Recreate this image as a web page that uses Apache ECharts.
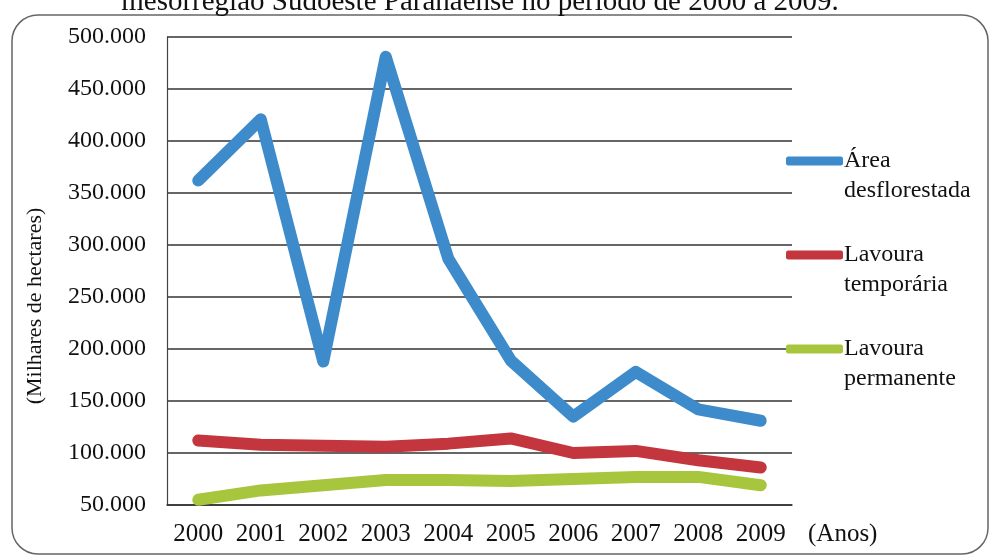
<!DOCTYPE html>
<html>
<head>
<meta charset="utf-8">
<script src="https://cdn.jsdelivr.net/npm/echarts@6/dist/echarts.min.js"></script>
<style>
  html, body { margin: 0; padding: 0; background: #ffffff; }
  #chart { width: 991px; height: 558px; }
</style>
</head>
<body>
<div id="chart"></div>
<script>
// ---- Data ----
const titleText = 'mesorregião Sudoeste Paranaense no período de 2000 a 2009.';
const years = ['2000', '2001', '2002', '2003', '2004', '2005', '2006', '2007', '2008', '2009'];
const areaDesflorestada = [362000, 421000, 188000, 481000, 287000, 189000, 135000, 178000, 142000, 131000];
const lavouraTemporaria = [112000, 108000, 107000, 106000, 109000, 114000, 100000, 102000, 93000, 86000];
const lavouraPermanente = [55000, 64000, 69000, 74000, 74000, 73000, 75000, 77000, 77000, 69000];
const seriesNames = ['Área desflorestada', 'Lavoura temporária', 'Lavoura permanente'];
const yMin = 50000, yMax = 500000, yStep = 50000;
const yAxisTitle = '(Milhares de hectares)';
const xAxisTitle = '(Anos)';

const FONT = '"Liberation Serif", "Times New Roman", serif';
const colors = ['#3d8bcb', '#c3363e', '#a8c53e'];

function fmt(v) {
  return String(v).replace(/\B(?=(\d{3})+(?!\d))/g, '.');
}

const chart = echarts.init(document.getElementById('chart'), null, { renderer: 'canvas' });

function lineSeries(name, data, color) {
  return {
    name: name,
    type: 'line',
    data: data,
    symbol: 'none',
    smooth: false,
    color: color,
    lineStyle: { width: 12, color: color, cap: 'round', join: 'round' },
    emphasis: { disabled: true },
    z: 3
  };
}

chart.setOption({
  backgroundColor: '#ffffff',
  animation: false,
  textStyle: { fontFamily: FONT },
  grid: { left: 167, right: 199, top: 37, bottom: 53, containLabel: false },
  xAxis: {
    type: 'category',
    data: years,
    boundaryGap: true,
    axisLine: { show: true, lineStyle: { color: '#333', width: 1.5 } },
    axisTick: { show: false },
    axisLabel: { color: '#111', fontSize: 25, fontFamily: FONT, margin: 17, interval: 0 },
    name: xAxisTitle,
    nameLocation: 'end',
    nameGap: 16,
    nameTextStyle: { color: '#111', fontSize: 25, fontFamily: FONT, verticalAlign: 'top', padding: [17, 0, 0, 0] },
    splitLine: { show: false }
  },
  yAxis: {
    type: 'value',
    min: yMin,
    max: yMax,
    interval: yStep,
    axisLine: { show: true, lineStyle: { color: '#444', width: 1.2 } },
    axisTick: { show: false },
    axisLabel: { color: '#111', fontSize: 24, fontFamily: FONT, margin: 21, formatter: fmt },
    splitLine: { show: true, lineStyle: { color: '#333', width: 1.5 } }
  },
  legend: {
    orient: 'vertical',
    left: 786,
    top: 116,
    padding: 0,
    itemGap: 4,
    itemWidth: 57,
    itemHeight: 9,
    icon: 'roundRect',
    selectedMode: false,
    data: seriesNames,
    formatter: function (n) { return '\n' + n.replace(' ', '\n'); },
    textStyle: { color: '#111', fontSize: 24, fontFamily: FONT, lineHeight: 30, padding: [0, 0, 0, -4] }
  },
  graphic: [
    {
      type: 'rect',
      shape: { x: 12, y: 15, width: 976, height: 539, r: 26 },
      style: { fill: 'none', stroke: '#666', lineWidth: 1.5 },
      silent: true,
      z: 0
    },
    {
      type: 'text',
      x: 480,
      y: 2,
      style: { text: titleText, font: '29px ' + FONT, fill: '#111', align: 'center', verticalAlign: 'middle' },
      silent: true,
      z: 10
    },
    {
      type: 'text',
      x: 35,
      y: 306,
      rotation: Math.PI / 2,
      style: { text: yAxisTitle, font: '22px ' + FONT, fill: '#111', align: 'center', verticalAlign: 'middle' },
      silent: true,
      z: 10
    }
  ],
  series: [
    lineSeries(seriesNames[0], areaDesflorestada, colors[0]),
    lineSeries(seriesNames[1], lavouraTemporaria, colors[1]),
    lineSeries(seriesNames[2], lavouraPermanente, colors[2])
  ]
});
</script>
</body>
</html>
